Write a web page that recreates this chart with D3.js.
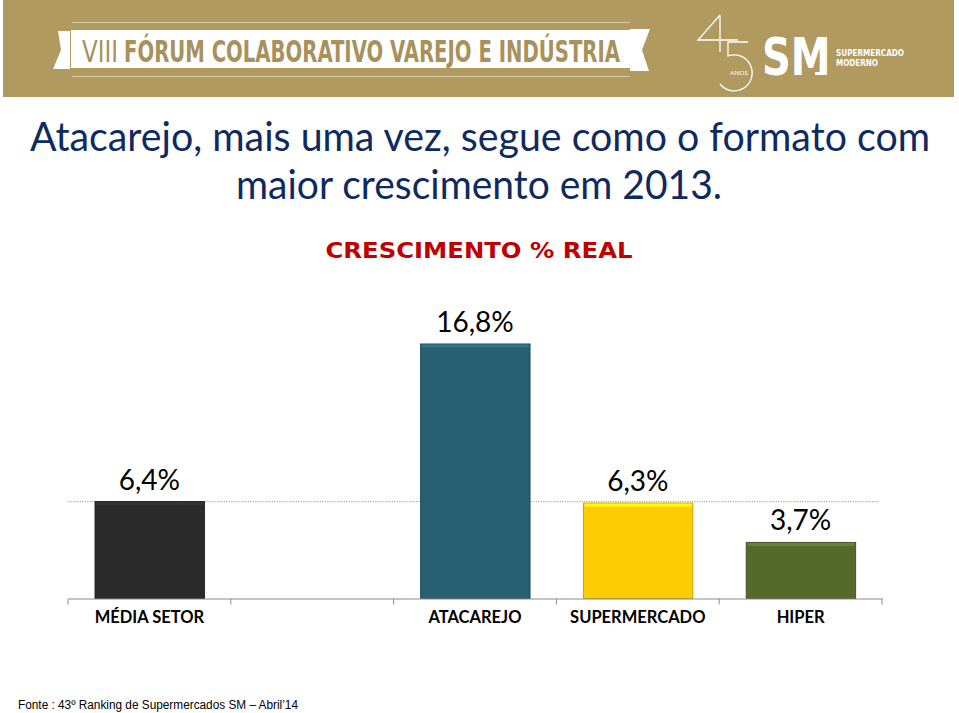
<!DOCTYPE html>
<html>
<head>
<meta charset="utf-8">
<script src="https://cdn.jsdelivr.net/npm/d3@7/dist/d3.min.js"></script>
<style>
  html, body { margin: 0; padding: 0; background: #fff; }
  svg { display: block; }
</style>
</head>
<body>
<svg id="chart" width="959" height="713"></svg>
<script>
// ---- data ----
const categories = ["MÉDIA SETOR", "", "ATACAREJO", "SUPERMERCADO", "HIPER"];
const values = [6.4, null, 16.8, 6.3, 3.7];
const valueLabels = ["6,4%", "", "16,8%", "6,3%", "3,7%"];
const barColors = ["#2b2b2b", null, "#265f6f", "#ffcb05", "#55692b"];
const referenceValue = 6.4; // média setor

const svg = d3.select("#chart");

// ---- header banner ----
const gold = "#b09a60";
svg.append("rect").attr("x", 3).attr("y", 0).attr("width", 951).attr("height", 97).attr("fill", gold);
svg.append("line").attr("x1", 72).attr("x2", 630).attr("y1", 22.5).attr("y2", 22.5)
  .attr("stroke", "#d8cba6").attr("stroke-width", 1);
svg.append("line").attr("x1", 72).attr("x2", 630).attr("y1", 76.5).attr("y2", 76.5)
  .attr("stroke", "#d8cba6").attr("stroke-width", 1);
svg.append("polygon").attr("points", "58,31 70,31 70,69 53,69 61,50").attr("fill", "#fff");
svg.append("polygon").attr("points", "630,29 650,29 642,50 649,71 630,71").attr("fill", "#fff");
svg.append("rect").attr("x", 71).attr("y", 30).attr("width", 560).attr("height", 38).attr("fill", "#fff");
svg.append("text").attr("x", 82).attr("y", 62)
  .attr("font-family", "'Liberation Sans Narrow', 'DejaVu Sans Condensed', sans-serif")
  .attr("font-size", 30).attr("fill", "#a8915a")
  .attr("textLength", 36).attr("lengthAdjust", "spacingAndGlyphs").text("VIII");
svg.append("text").attr("x", 124).attr("y", 62)
  .attr("font-family", "'Liberation Sans Narrow', 'DejaVu Sans Condensed', sans-serif")
  .attr("font-weight", "bold").attr("font-size", 30).attr("fill", "#a8915a")
  .attr("textLength", 496).attr("lengthAdjust", "spacingAndGlyphs")
  .text("FÓRUM COLABORATIVO VAREJO E INDÚSTRIA");

// logo "45 ANOS SM"
const logo = svg.append("g").attr("fill", "none").attr("stroke", "#fff").attr("stroke-width", 1.3);
logo.append("path").attr("d", "M720,15 L698,40 L738,40 M720,15 L720,52");
logo.append("path").attr("d", "M748,42 L728,42 L728,56 A18,18 0 1,1 720,84");
svg.append("text").attr("x", 730).attr("y", 75).attr("font-family", "Lato, sans-serif")
  .attr("font-size", 6.5).attr("fill", "#fff").text("ANOS");
svg.append("text").attr("transform", "translate(762,75) scale(1,1.3)")
  .attr("font-family", "'DejaVu Sans', sans-serif")
  .attr("font-weight", "bold").attr("font-size", 40).attr("fill", "#fff").text("SM");
svg.append("rect").attr("x", 815).attr("y", 72).attr("width", 9).attr("height", 3).attr("fill", "#fff");
svg.append("text").attr("x", 836).attr("y", 56).attr("font-family", "'Liberation Sans Narrow', 'DejaVu Sans Condensed', sans-serif")
  .attr("font-weight", "bold").attr("font-size", 9).attr("fill", "#fff")
  .attr("textLength", 68).attr("lengthAdjust", "spacingAndGlyphs").text("SUPERMERCADO");
svg.append("text").attr("x", 836).attr("y", 66).attr("font-family", "'Liberation Sans Narrow', 'DejaVu Sans Condensed', sans-serif")
  .attr("font-weight", "bold").attr("font-size", 9).attr("fill", "#fff")
  .attr("textLength", 42).attr("lengthAdjust", "spacingAndGlyphs").text("MODERNO");

// ---- titles ----
svg.append("text").attr("x", 480).attr("y", 151).attr("text-anchor", "middle")
  .attr("font-family", "Lato, 'Open Sans', sans-serif").attr("font-size", 40).attr("fill", "#0f2a5e")
  .attr("textLength", 900).attr("lengthAdjust", "spacingAndGlyphs")
  .text("Atacarejo, mais uma vez, segue como o formato com");
svg.append("text").attr("x", 479).attr("y", 199).attr("text-anchor", "middle")
  .attr("font-family", "Lato, 'Open Sans', sans-serif").attr("font-size", 40).attr("fill", "#0f2a5e")
  .attr("textLength", 486).attr("lengthAdjust", "spacingAndGlyphs")
  .text("maior crescimento em 2013.");
svg.append("text").attr("x", 479).attr("y", 258).attr("text-anchor", "middle")
  .attr("font-family", "'DejaVu Sans', Verdana, sans-serif").attr("font-weight", "bold")
  .attr("font-size", 22).attr("fill", "#c00000")
  .attr("textLength", 307).attr("lengthAdjust", "spacingAndGlyphs")
  .text("CRESCIMENTO % REAL");

// ---- chart ----
const x = d3.scaleBand().domain(categories.map((c, i) => i)).range([68, 882]).padding(0);
const y = d3.scaleLinear().domain([0, 16.8]).range([598.5, 344]);
const inset = 0.166, barFrac = 0.672;

const data = categories.map((c, i) => ({ c, i, v: values[i], label: valueLabels[i], color: barColors[i] }))
  .filter(d => d.v != null);

// reference dotted line (média setor)
svg.append("line").attr("x1", 68).attr("x2", 878)
  .attr("y1", y(referenceValue)).attr("y2", y(referenceValue))
  .attr("stroke", "#c8a8a4").attr("stroke-width", 1.2).attr("stroke-dasharray", "1.2,1.2");

const bars = svg.append("g").selectAll("g").data(data).join("g");
bars.append("rect")
  .attr("x", d => x(d.i) + x.bandwidth() * inset)
  .attr("y", d => y(d.v))
  .attr("width", x.bandwidth() * barFrac)
  .attr("height", d => y(0) - y(d.v))
  .attr("fill", d => d.color)
  .attr("stroke", d => d3.color(d.color).darker(0.6))
  .attr("stroke-width", 1);
bars.append("rect")
  .attr("x", d => x(d.i) + x.bandwidth() * inset + 1)
  .attr("y", d => y(d.v) + 0.5)
  .attr("width", x.bandwidth() * barFrac - 2)
  .attr("height", 3)
  .attr("fill", d => d3.color(d.color).brighter(0.6));
bars.append("text")
  .attr("x", d => x(d.i) + x.bandwidth() / 2)
  .attr("y", d => y(d.v) - 12)
  .attr("text-anchor", "middle")
  .attr("font-family", "Lato, 'Open Sans', sans-serif")
  .attr("font-size", 28).attr("fill", "#000")
  .text(d => d.label);

// axis
const axis = d3.axisBottom(x).tickSize(0).tickPadding(13).tickFormat(i => categories[i]);
const ag = svg.append("g").attr("transform", "translate(0,598.5)").call(axis);
ag.select(".domain").attr("stroke", "#8c8c8c");
ag.selectAll(".tick text").attr("font-family", "Lato, 'Open Sans', sans-serif")
  .attr("font-weight", "bold").attr("font-size", 16.5).attr("fill", "#000");
const bounds = categories.map((c, i) => x(i)).concat([x(categories.length - 1) + x.bandwidth()]);
ag.selectAll(".bound").data(bounds).join("line").attr("class", "bound")
  .attr("x1", d => d).attr("x2", d => d).attr("y1", 0).attr("y2", 6)
  .attr("stroke", "#8c8c8c");

// footer
svg.append("text").attr("x", 18).attr("y", 709)
  .attr("font-family", "'Liberation Sans', Arial, sans-serif").attr("font-size", 12).attr("fill", "#000")
  .attr("textLength", 280).attr("lengthAdjust", "spacingAndGlyphs")
  .text("Fonte : 43º Ranking de Supermercados SM – Abril’14");
</script>
</body>
</html>
